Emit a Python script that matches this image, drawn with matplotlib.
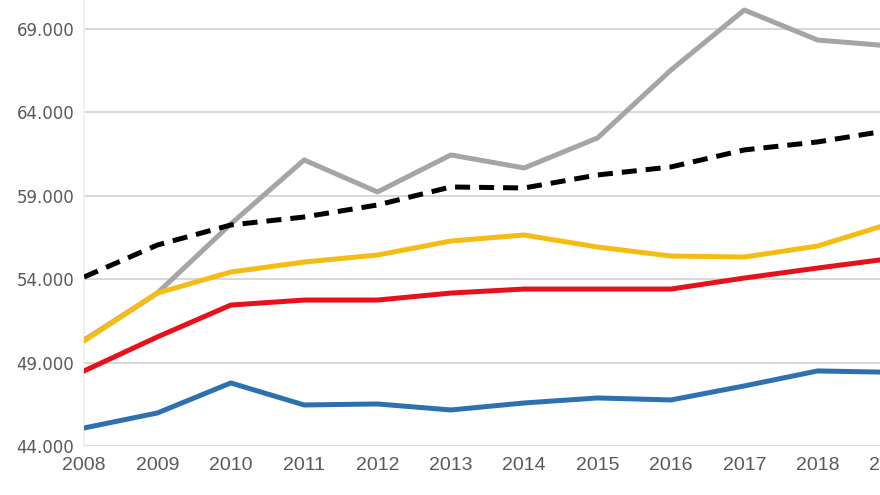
import matplotlib.pyplot as plt
from matplotlib.ticker import FuncFormatter

years = [2008, 2009, 2010, 2011, 2012, 2013, 2014, 2015, 2016, 2017, 2018, 2019]

gray_vals = [50350, 53170, 57310, 61150, 59230, 61450, 60670, 62470, 66540, 70140, 68340, 67980]
dashed_vals = [54130, 56050, 57250, 57730, 58450, 59530, 59470, 60250, 60730, 61750, 62230, 62940]
yellow_vals = [50300, 53170, 54430, 55030, 55450, 56290, 56650, 55930, 55390, 55330, 55990, 57350]
red_vals = [48500, 50540, 52450, 52750, 52750, 53170, 53410, 53410, 53410, 54070, 54670, 55240]
blue_vals = [45080, 45980, 47780, 46460, 46520, 46160, 46580, 46880, 46760, 47600, 48500, 48420]

y_ticks = [44000, 49000, 54000, 59000, 64000, 69000]

fig = plt.figure(figsize=(8.8, 4.95), dpi=100)
# the source image is cropped on the right, so the axes run past the figure edge
ax = fig.add_axes([0.0955, 0.099, 0.917, 0.901])

lw = 3.6
ax.plot(years, gray_vals, color="#A5A5A5", lw=lw, zorder=3)
ax.plot(years, yellow_vals, color="#F5BC14", lw=lw, zorder=4)
ax.plot(years, red_vals, color="#E8101A", lw=lw, zorder=5)
ax.plot(years, blue_vals, color="#2E71B0", lw=lw, zorder=6)
ax.plot(years, dashed_vals, color="black", lw=lw, dashes=(3, 1.8), zorder=7)

ax.set_xlim(2008, 2019)
ax.set_ylim(44000, 70740)
ax.set_xticks(years)
ax.set_yticks(y_ticks)
ax.yaxis.set_major_formatter(FuncFormatter(lambda v, p: f"{int(v):,}".replace(",", ".")))

ax.grid(axis="y", color="#D9D9D9", lw=1.5, zorder=1)
for s in ["top", "right", "bottom"]:
    ax.spines[s].set_visible(False)
ax.spines["left"].set_color("#EDEDED")
ax.spines["left"].set_linewidth(1.2)

ax.tick_params(length=0)
ax.tick_params(axis="y", pad=7, labelsize=12, labelcolor="#595959")
ax.tick_params(axis="x", pad=8, labelsize=14, labelcolor="#595959")
for lab in ax.get_xticklabels():
    lab.set_fontfamily("Liberation Sans")

fig.savefig("out.png", dpi=100)
